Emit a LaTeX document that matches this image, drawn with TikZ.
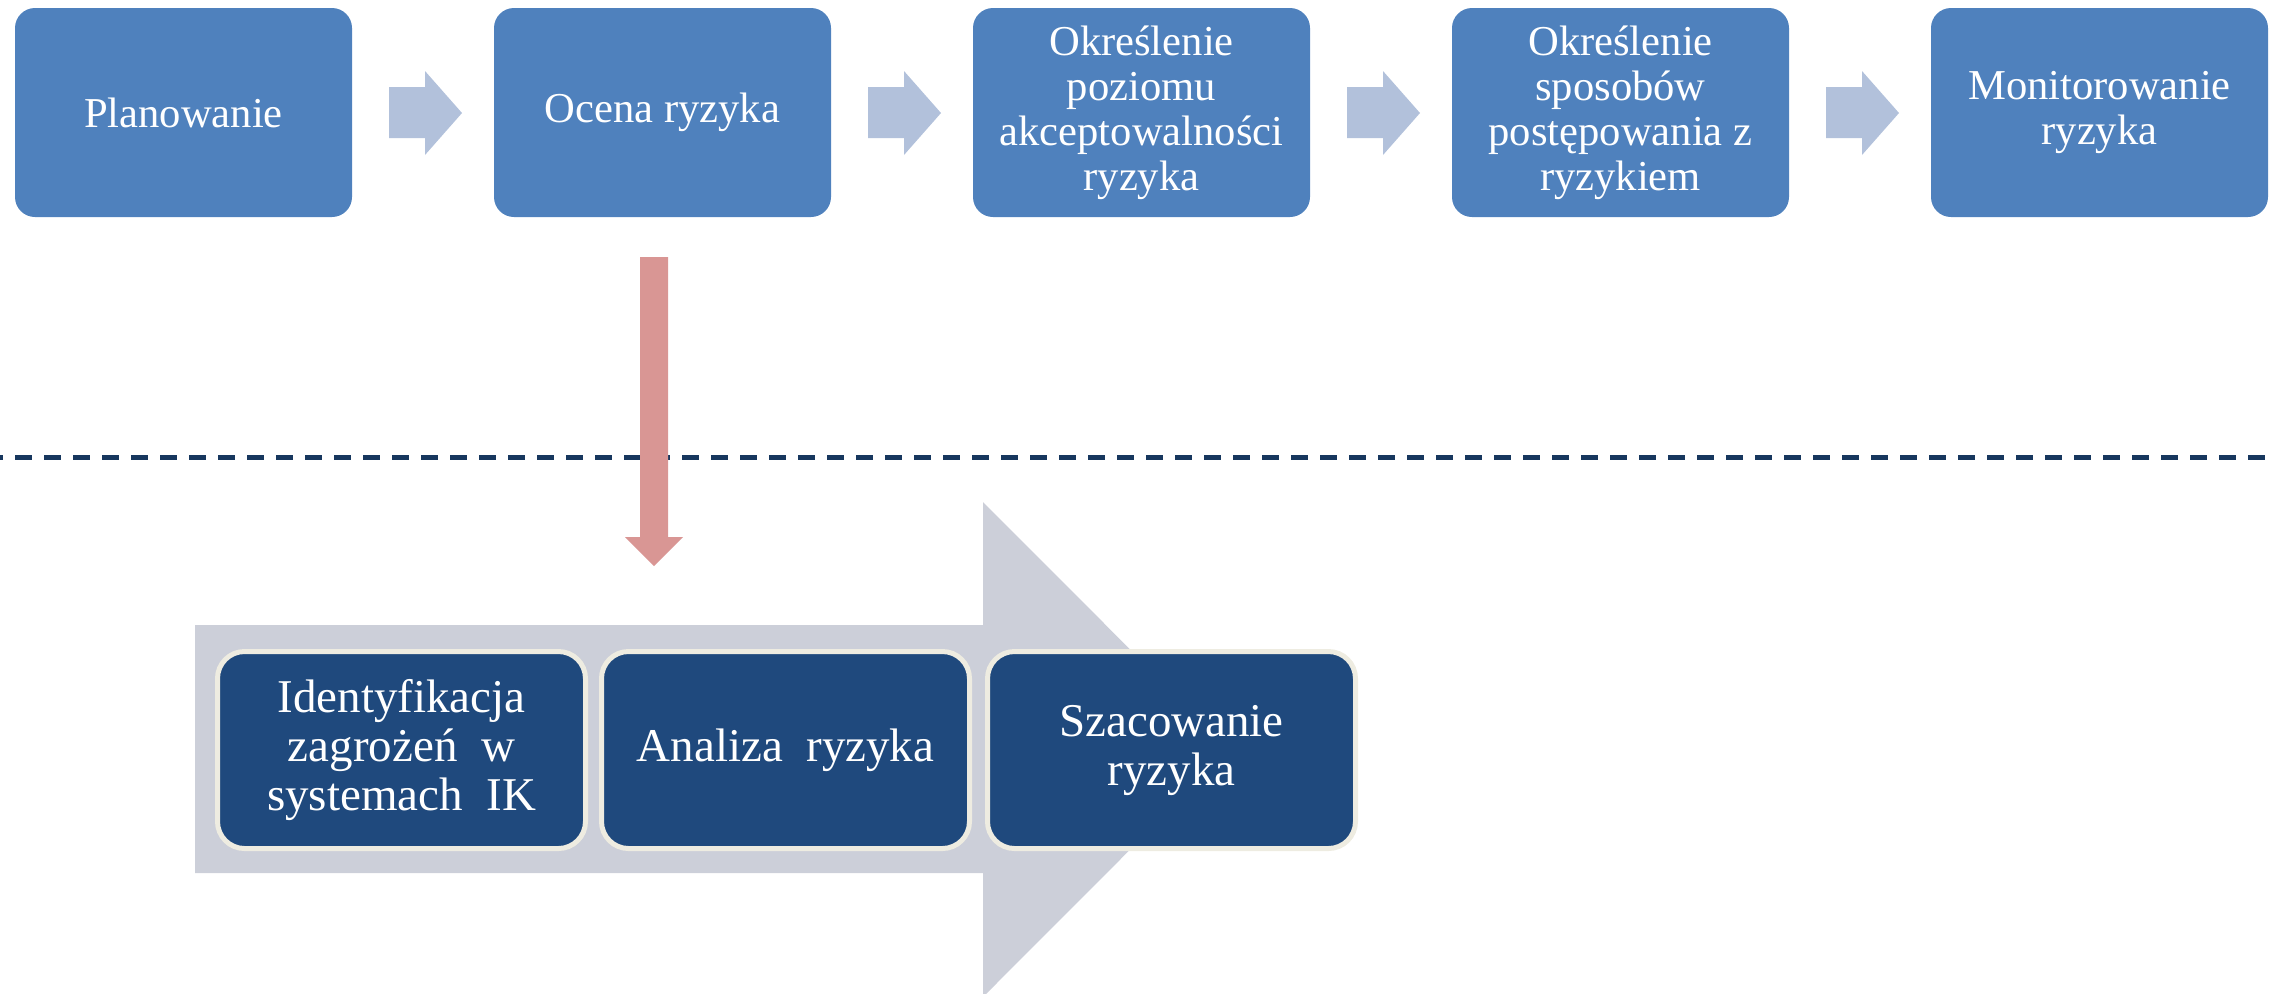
\documentclass[tikz,border=0pt]{standalone}
\usepackage{fontspec}
\setmainfont{Liberation Serif}
\usepackage{tikz}

\begin{document}
\begin{tikzpicture}[x=0.5pt,y=0.5pt,yscale=-1,
  topbox/.style={rounded corners=10pt, fill={rgb, 255:red, 79; green, 129; blue, 189 }, text=white, minimum width=168.5pt, minimum height=104.5pt, inner sep=0pt, align=center, font=\fontsize{21.3}{22.5}\selectfont},
  subbox/.style={rounded corners=13.5pt, draw={rgb, 255:red, 238; green, 236; blue, 225 }, line width=2.5pt, fill={rgb, 255:red, 31; green, 73; blue, 125 }, text=white, minimum width=184pt, minimum height=98.5pt, inner sep=0pt, align=center, font=\fontsize{23.5}{24.5}\selectfont},
  steparrow/.style={fill={rgb, 255:red, 178; green, 193; blue, 219 }},
  bigarrow/.style={fill={rgb, 255:red, 204; green, 207; blue, 217 }},
  downarrow/.style={fill={rgb, 255:red, 217; green, 150; blue, 148 }}]
\path[use as bounding box] (0,0) rectangle (2272,993);

%Block Arrows (top row)
\fill [steparrow] (389,87) -- (425,87) -- (425,71) -- (462,113) -- (425,155) -- (425,138) -- (389,138) -- cycle ;
\fill [steparrow] (868,87) -- (904,87) -- (904,71) -- (941,113) -- (904,155) -- (904,138) -- (868,138) -- cycle ;
\fill [steparrow] (1347,87) -- (1383,87) -- (1383,71) -- (1420,113) -- (1383,155) -- (1383,138) -- (1347,138) -- cycle ;
\fill [steparrow] (1826,87) -- (1862,87) -- (1862,71) -- (1899,113) -- (1862,155) -- (1862,138) -- (1826,138) -- cycle ;

% Text Node
\node [topbox] (plan) at (183.5,112.5) {Planowanie};
% Text Node
\node [topbox] (ocena) at (662.5,112.5) {Ocena ryzyka};
% Text Node
\node [topbox] (akcept) at (1141.5,112.5) {Określenie\\poziomu\\akceptowalności\\ryzyka};
% Text Node
\node [topbox] (sposob) at (1620.5,112.5) {Określenie\\sposobów\\postępowania z\\ryzykiem};
% Text Node
\node [topbox] (monit) at (2099.5,112.5) {Monitorowanie\\ryzyka};

%Dashed Line
\draw [color={rgb, 255:red, 23; green, 55; blue, 94 }, line width=2.5pt, dash pattern=on 8.5pt off 6pt, dash phase=7pt] (0,457) -- (2272,457) ;

%Block Arrow (down)
\fill [downarrow] (640,257) -- (668,257) -- (668,537) -- (683,537) -- (654,566) -- (625,537) -- (640,537) -- cycle ;

%Big Arrow
\fill [bigarrow] (195,625) -- (983,625) -- (983,502) -- (1230,749.5) -- (983,997) -- (983,873) -- (195,873) -- cycle ;

% Text Node
\node [subbox] (ident) at (401.5,750) {Identyfikacja\\zagrożeń\enspace w\\systemach\enspace IK};
% Text Node
\node [subbox] (analiza) at (785.5,750) {Analiza\enspace ryzyka};
% Text Node
\node [subbox] (szac) at (1171.5,750) {Szacowanie\\ryzyka};

\end{tikzpicture}
\end{document}
